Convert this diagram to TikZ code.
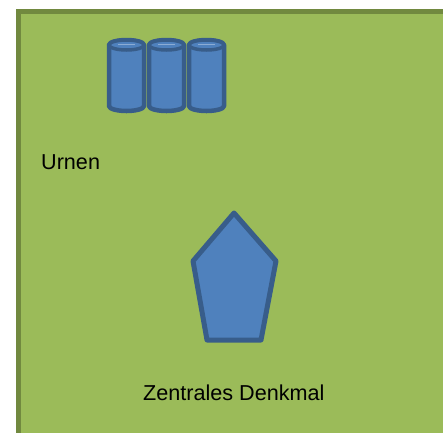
\documentclass[tikz,border=0pt]{standalone}
\usepackage{fontspec}
\setmainfont{Liberation Sans}
\definecolor{bggreen}{HTML}{9BBB59}
\definecolor{bgborder}{HTML}{71893F}
\definecolor{shapeblue}{HTML}{4F81BD}
\definecolor{shapeborder}{HTML}{385D8A}
\tikzset{
  blueshape/.style={fill=shapeblue, draw=shapeborder, line width=4.5pt, line join=round},
  labeltext/.style={inner sep=0pt, anchor=base west, font=\fontsize{21.6}{25}\selectfont},
}
\begin{document}
\begin{tikzpicture}[x=1pt,y=-1pt]
\useasboundingbox (0,0) rectangle (443,432);
\fill[white] (0,0) rectangle (443,432);
\draw[fill=bggreen, draw=bgborder, line width=5pt] (18.5,11.5) rectangle (460,450);
% urns
\foreach \i in {0,1,2}{
  \begin{scope}[xshift={40*\i}]
    \draw[blueshape] (109,45) -- (109,106) arc[start angle=180, end angle=360, x radius=17.5, y radius=-5] -- (144,45) arc[start angle=0, end angle=180, x radius=17.5, y radius=-5] -- cycle;
    \draw[blueshape, line width=3.5pt] (126.5,45) ellipse[x radius=17.5, y radius=5];
    \draw[white, opacity=0.35, line width=1pt] (118,44.5) -- (135,44.5);
  \end{scope}
}
% monument
\draw[blueshape, line width=5pt] (234,213) -- (276,261) -- (261,340) -- (207,340) -- (193,261) -- cycle;
\node[labeltext] (urnen) at (41,169) {Urnen};
\node[labeltext] (denkmal) at (143,400) {Zentrales Denkmal};
\end{tikzpicture}
\end{document}
